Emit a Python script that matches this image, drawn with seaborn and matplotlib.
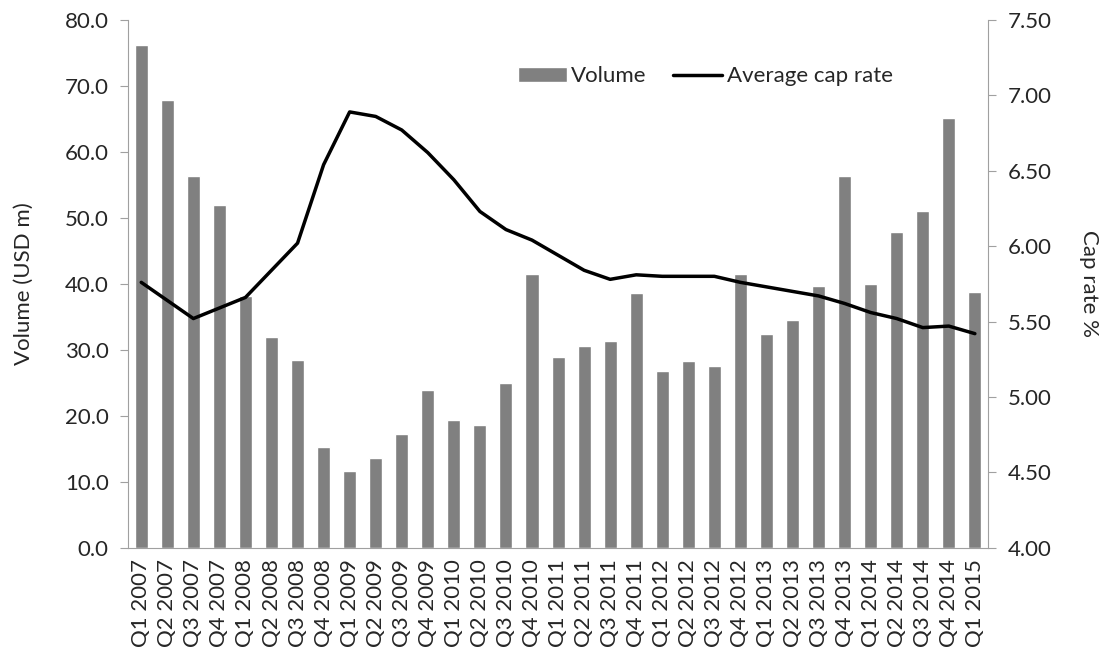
import matplotlib
matplotlib.use("Agg")
import matplotlib.pyplot as plt
import seaborn as sns
import numpy as np
import pandas as pd

quarters = [f"Q{q} {y}" for y in range(2007, 2016) for q in range(1, 5)][:33]

volume = [76.2, 67.8, 56.3, 52.0, 38.1, 32.0, 28.5, 15.3, 11.6, 13.6, 17.3, 23.9,
          19.4, 18.6, 25.0, 41.5, 28.9, 30.6, 31.4, 38.6, 26.8, 28.3, 27.6, 41.5,
          32.4, 34.5, 39.7, 56.3, 40.0, 47.9, 51.0, 65.2, 38.8]

cap_rate = [5.76, 5.64, 5.52, 5.59, 5.66, 5.84, 6.02, 6.54, 6.89, 6.86, 6.77, 6.62,
            6.44, 6.23, 6.11, 6.04, 5.94, 5.84, 5.78, 5.81, 5.80, 5.80, 5.80, 5.76,
            5.73, 5.70, 5.67, 5.62, 5.56, 5.52, 5.46, 5.47, 5.42]

sns.set_style("white")
plt.rcParams['font.family'] = ['Lato', 'DejaVu Sans']
FS = 16

df = pd.DataFrame({"quarter": quarters, "volume": volume, "cap": cap_rate,
                   "pos": np.arange(len(quarters))})

fig = plt.figure(figsize=(11.15, 6.64), dpi=100)
ax = fig.add_axes([0.115, 0.175, 0.771, 0.795])
sns.barplot(data=df, x="quarter", y="volume", color="#808080", saturation=1,
            width=0.5, ax=ax, label="Volume")
ax.set_ylim(0, 80)
ax.set_xlim(-0.5, len(quarters) - 0.5)
ax.set_yticks(np.arange(0, 81, 10))
ax.set_yticklabels([f"{v:.1f}" for v in np.arange(0, 81, 10)], fontsize=FS)
ax.set_xticks(range(len(quarters)))
ax.set_xticklabels(quarters, rotation=90, fontsize=FS)
ax.set_xticks(np.arange(-0.5, len(quarters), 1), minor=True)
ax.tick_params(axis="x", which="major", length=0, pad=8)
ax.tick_params(axis="x", which="minor", length=7, color="#a0a0a0", direction="out")
ax.tick_params(axis="y", length=6, color="#a0a0a0", direction="out", left=True, pad=8)
ax.set_xlabel("")
ax.set_ylabel("Volume (USD m)", fontsize=FS, labelpad=22)
for s in ["top", "right"]:
    ax.spines[s].set_visible(False)
for s in ["left", "bottom"]:
    ax.spines[s].set_color("#a0a0a0")

ax2 = ax.twinx()
sns.lineplot(data=df, x="pos", y="cap", color="black", linewidth=2.5, ax=ax2,
             label="Average cap rate")
ax2.set_ylim(4.0, 7.5)
ax2.set_xlim(-0.5, len(quarters) - 0.5)
ax2.set_yticks(np.arange(4.0, 7.51, 0.5))
ax2.set_yticklabels([f"{v:.2f}" for v in np.arange(4.0, 7.51, 0.5)], fontsize=FS)
ax2.tick_params(axis="y", length=6, color="#a0a0a0", direction="out", right=True, pad=8)
ax2.set_ylabel("Cap rate %", fontsize=FS, rotation=270, labelpad=34)
ax2.set_xlabel("")
for s in ["top", "left", "bottom"]:
    ax2.spines[s].set_visible(False)
ax2.spines["right"].set_color("#a0a0a0")

h1, l1 = ax.get_legend_handles_labels()
h2, l2 = ax2.get_legend_handles_labels()
if ax.get_legend():
    ax.get_legend().remove()
if ax2.get_legend():
    ax2.get_legend().remove()
ax2.legend(h1 + h2, l1 + l2, loc="upper left", bbox_to_anchor=(0.43, 0.95),
           ncol=2, frameon=False, fontsize=FS, handlelength=2.2, columnspacing=1.2,
           handletextpad=0.2)

plt.savefig("out.png", dpi=100)
